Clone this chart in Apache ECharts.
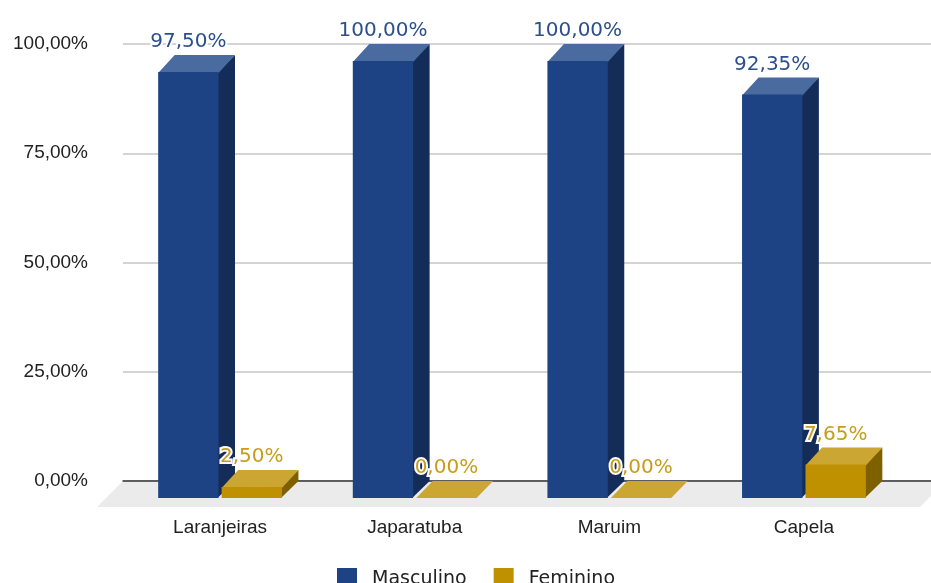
<html>
<head>
<meta charset="UTF-8">
<title>Masculino x Feminino</title>
<script src="https://cdn.jsdelivr.net/npm/echarts@6/dist/echarts.min.js"></script>
<style>
  html, body { margin: 0; padding: 0; background: #fff; }
  #main { width: 931px; height: 583px; }
</style>
</head>
<body>
<div id="main"></div>
<script type="text/javascript">
var categories = ['Laranjeiras', 'Japaratuba', 'Maruim', 'Capela'];
var masculino = [97.50, 100.00, 100.00, 92.35];
var feminino = [2.50, 0.00, 0.00, 7.65];
var yTicks = [0, 25, 50, 75, 100];

var DX = 16.5, DY = 17;   // profundidade do efeito 3D

function fmt(v) {
    return v.toFixed(2).replace('.', ',') + '%';
}

// desenha uma barra 3D (lado, topo, frente) a partir das escalas do eixo
function barra(lado, cores, corTexto) {
    return function (params, api) {
        var cat = api.value(0), val = api.value(1);
        var band = api.size([1, 0])[0];
        var bw = band * 0.31, gap = band * 0.016;
        var base = api.coord([cat, 0]);
        var topo = api.coord([cat, val]);
        var x0 = lado < 0 ? base[0] - gap / 2 - bw : base[0] + gap / 2;
        var x1 = x0 + bw;
        var yT = topo[1], yB = base[1];
        var alto = yB - yT > 0.5;
        var filhos = [];
        if (alto) {
            filhos.push({
                type: 'polygon',
                shape: { points: [[x1 - 1, yT], [x1 + DX, yT - DY], [x1 + DX, yB - DY], [x1 - 1, yB]] },
                style: { fill: cores.lado }
            });
        }
        filhos.push({
            type: 'polygon',
            shape: { points: [[x0, yT + (alto ? 1 : 0)], [x1, yT + (alto ? 1 : 0)], [x1 + DX, yT - DY], [x0 + DX, yT - DY]] },
            style: { fill: cores.topo }
        });
        if (alto) {
            filhos.push({
                type: 'rect',
                shape: { x: x0, y: yT, width: bw, height: yB - yT },
                style: { fill: cores.frente }
            });
        }
        filhos.push({
            type: 'text',
            style: {
                x: (x0 + x1) / 2,
                y: yT - DY - 13,
                text: fmt(val),
                align: 'center',
                verticalAlign: 'middle',
                fill: corTexto,
                font: '20px "DejaVu Sans"',
                stroke: '#fff',
                lineWidth: 4
            },
            z2: 10
        });
        return { type: 'group', children: filhos };
    };
}

var myChart = echarts.init(document.getElementById('main'));

var option = {
    animation: false,
    backgroundColor: '#fff',
    legend: {
        left: 332,
        top: 563,
        itemWidth: 20,
        itemHeight: 22,
        itemGap: 27,
        icon: 'rect',
        data: ['Masculino', 'Feminino'],
        textStyle: {
            fontFamily: 'DejaVu Sans',
            fontSize: 19,
            color: '#222',
            padding: [0, 0, 0, 10]
        }
    },
    grid: [
        // plano da frente (barras)
        { left: 122.75, right: 29.75, top: 61, bottom: 85 },
        // plano do fundo (linhas de grade)
        { left: 123, right: 0, top: 44, bottom: 102 }
    ],
    xAxis: [
        {
            gridIndex: 0,
            type: 'category',
            data: categories,
            axisLine: { show: false },
            axisTick: { show: false },
            axisLabel: {
                margin: 20,
                fontFamily: 'Liberation Sans',
                fontSize: 19,
                color: '#222'
            }
        },
        {
            gridIndex: 1,
            type: 'value',
            min: 0,
            max: 1,
            axisLine: { show: true, lineStyle: { color: '#333', width: 1.5 } },
            axisTick: { show: false },
            axisLabel: { show: false },
            splitLine: { show: false }
        }
    ],
    yAxis: [
        {
            gridIndex: 0,
            type: 'value',
            min: 0,
            max: 100,
            show: false
        },
        {
            gridIndex: 1,
            type: 'value',
            min: yTicks[0],
            max: yTicks[yTicks.length - 1],
            interval: yTicks[1] - yTicks[0],
            axisLine: { show: false },
            axisTick: { show: false },
            axisLabel: {
                margin: 35,
                fontFamily: 'Liberation Sans',
                fontSize: 19,
                color: '#222',
                formatter: function (v) { return fmt(v); }
            },
            splitLine: { lineStyle: { color: '#d4d4d4', width: 2 } }
        }
    ],
    series: [
        {
            name: 'piso',
            type: 'custom',
            xAxisIndex: 1,
            yAxisIndex: 1,
            z: 0,
            silent: true,
            data: [[0, 0]],
            renderItem: function (params, api) {
                var a = api.coord([0, 0]);
                var b = api.coord([1, 0]);
                return {
                    type: 'polygon',
                    shape: { points: [[a[0], a[1]], [b[0] + 15, b[1]], [b[0] - 11, b[1] + 26], [a[0] - 26, a[1] + 26]] },
                    style: { fill: '#ebebeb' }
                };
            }
        },
        {
            name: 'Masculino',
            type: 'custom',
            xAxisIndex: 0,
            yAxisIndex: 0,
            z: 3,
            itemStyle: { color: '#1d4385' },
            data: masculino.map(function (v, i) { return [i, v]; }),
            renderItem: barra(-1, { frente: '#1d4385', topo: '#4a6b9f', lado: '#142d58' }, '#2c4f8e')
        },
        {
            name: 'Feminino',
            type: 'custom',
            xAxisIndex: 0,
            yAxisIndex: 0,
            z: 4,
            itemStyle: { color: '#bf9000' },
            data: feminino.map(function (v, i) { return [i, v]; }),
            renderItem: barra(1, { frente: '#bf9000', topo: '#cca632', lado: '#7f6000' }, '#c69d1c')
        }
    ]
};

myChart.setOption(option);
</script>
</body>
</html>
